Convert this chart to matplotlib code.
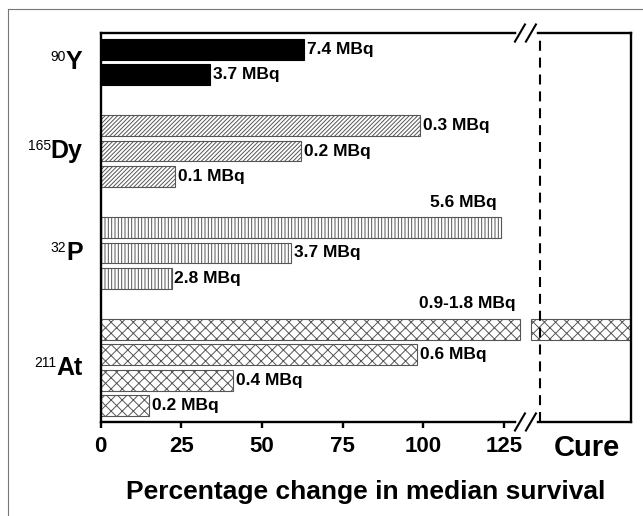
import numpy as np
import matplotlib.pyplot as plt
from matplotlib.lines import Line2D
from matplotlib.offsetbox import TextArea, HPacker, AnnotationBbox

plt.rcParams['font.family'] = ['Liberation Sans', 'DejaVu Sans']
plt.rcParams['hatch.linewidth'] = 0.7

# Isotope groups, top to bottom, and the bar slots they use.
isotopes = ['Y', 'Dy', 'P', 'At']
mass_numbers = ['90', '165', '32', '211']
group_slots = [[0, 1], [3, 4, 5], [7, 8, 9], [11, 12, 13, 14]]

# Percentage change in median survival (None = cure).
y90_change = [63, 34]
dy165_change = [99, 62, 23]
p32_change = [124, 59, 22]
at211_change = [None, 98, 41, 15]

y90_labels = ['7.4 MBq', '3.7 MBq']
dy165_labels = ['0.3 MBq', '0.2 MBq', '0.1 MBq']
p32_labels = ['5.6 MBq', '3.7 MBq', '2.8 MBq']
at211_labels = ['0.9-1.8 MBq', '0.6 MBq', '0.4 MBq', '0.2 MBq']

# Labels drawn above the bar instead of to its right.
above = {'5.6 MBq', '0.9-1.8 MBq'}

xticks = [0, 25, 50, 75, 100, 125]

# Broken axis: the linear part stops at the break, "Cure" sits right of it.
X_MAX = 164.3
BREAK_LO = 130.0
BREAK_HI = 133.2
CURE_LINE = 136.1
CURE_POS = 150.6

changes = [y90_change, dy165_change, p32_change, at211_change]
labels = [y90_labels, dy165_labels, p32_labels, at211_labels]
styles = [dict(color='black', edgecolor='black', hatch=None),
          dict(color='white', edgecolor='#555555', hatch='////////'),
          dict(color='white', edgecolor='#555555', hatch='|||||'),
          dict(color='white', edgecolor='#555555', hatch='xxx')]

fig = plt.figure(figsize=(6.43, 5.16), dpi=100)
ax = fig.add_axes([0.1566, 0.1822, 0.8247, 0.7538])

for slots, vals, labs, st in zip(group_slots, changes, labels, styles):
    for s, v, lab in zip(slots, vals, labs):
        if v is None:
            ax.barh(s, BREAK_LO, height=0.82, linewidth=0.8, **st)
            ax.barh(s, X_MAX - BREAK_HI, left=BREAK_HI, height=0.82, linewidth=0.8, **st)
            end = BREAK_LO
        else:
            ax.barh(s, v, height=0.82, linewidth=0.8, **st)
            end = v
        if lab in above:
            ax.annotate(lab, (end, s - 1.0), xytext=(-3, 0), textcoords='offset points',
                        ha='right', va='center', fontsize=12.5, fontweight='bold')
        else:
            ax.annotate(lab, (end, s), xytext=(2, 0), textcoords='offset points',
                        ha='left', va='center', fontsize=12.5, fontweight='bold')

# Isotope names with superscript mass numbers.
for iso, mass, slots in zip(isotopes, mass_numbers, group_slots):
    sup = TextArea(mass, textprops=dict(fontsize=10))
    main = TextArea(iso, textprops=dict(fontsize=18, fontweight='bold'))
    box = HPacker(children=[sup, main], align='top', pad=0, sep=0)
    ab = AnnotationBbox(box, (0, np.mean(slots)), xycoords=('axes fraction', 'data'),
                        xybox=(-13, 0), boxcoords='offset points',
                        box_alignment=(1, 0.5), frameon=False, pad=0)
    ax.add_artist(ab)

ax.set_xlim(0, X_MAX)
ax.set_ylim(14.63, -0.63)
ax.set_yticks([])
ax.set_xticks(xticks + [CURE_POS])
ax.set_xticklabels([str(t) for t in xticks] + ['Cure'], fontweight='bold', fontsize=16)
ax.tick_params(axis='x', direction='out', length=4.3, width=1.7, pad=6)
cure_tick = ax.xaxis.get_major_ticks()[-1]
cure_tick.tick1line.set_visible(False)
cure_tick.label1.set_fontsize(21)
cure_tick.set_pad(4)

for sp in ax.spines.values():
    sp.set_linewidth(1.7)

ax.set_xlabel('Percentage change in median survival', fontsize=19, fontweight='bold', labelpad=13)

# Dashed line marking the cure boundary.
ax.axvline(CURE_LINE, color='black', lw=1.5, ls=(0, (4.8, 3.3)), zorder=4)

# Break marks on top and bottom spines.
for yy in [0, 1]:
    ax.plot([BREAK_LO - 0.3, BREAK_HI + 1.2], [yy, yy], color='white', lw=4,
            transform=ax.get_xaxis_transform(), clip_on=False, zorder=5)
    for xc in [129.9, 133.3]:
        ax.plot([xc - 1.55, xc + 1.55], [yy - 0.022, yy + 0.022], color='black', lw=1.5,
                transform=ax.get_xaxis_transform(), clip_on=False, zorder=6)

# Thin frame of the original figure (left and top edges).
fig.add_artist(Line2D([0.0124, 0.0124], [0, 0.9826], color='#777777', lw=0.8))
fig.add_artist(Line2D([0.0124, 1], [0.9826, 0.9826], color='#777777', lw=0.8))

fig.savefig('out.png', dpi=100)
